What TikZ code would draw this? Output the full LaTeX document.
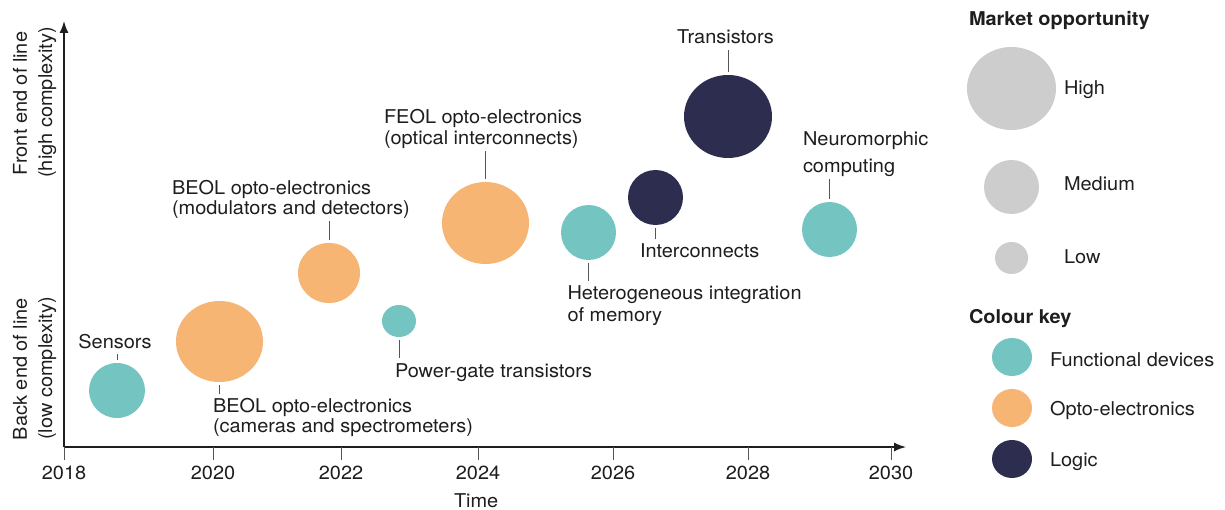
\documentclass[tikz,border=0pt]{standalone}
\usepackage{fontspec}
\setmainfont[FakeStretch=1.05]{TeX Gyre Heros}
\usetikzlibrary{arrows.meta,shapes.geometric}
\definecolor{cTeal}{HTML}{74C5C2}
\definecolor{cOrange}{HTML}{F7B574}
\definecolor{cNavy}{HTML}{2D2E4F}
\definecolor{cGrey}{HTML}{CDCDCD}
\definecolor{cText}{HTML}{1E1E1E}
\definecolor{cLead}{HTML}{555555}
\tikzset{
  txt/.style={font=\fontsize{19}{22}\selectfont, text=cText, inner sep=0pt, outer sep=0pt},
  ttl/.style={txt, font=\fontsize{19}{22}\selectfont\bfseries},
  bub/.style={ellipse, inner sep=0pt, outer sep=0pt, draw=none},
  leadup/.style={draw=cLead, line width=0.9pt, shorten <=3pt, shorten >=6pt},
  leaddn/.style={draw=cLead, line width=0.9pt, shorten <=3pt, shorten >=5pt},
  axisline/.style={draw=cText, line width=1.4pt},
  tickline/.style={draw=cLead, line width=0.8pt},
}
\begin{document}
\begin{tikzpicture}[x=1pt,y=-1pt]
\useasboundingbox (0,0) rectangle (1225,510);
\fill[white] (0,0) rectangle (1225,510);

% axes
\coordinate (origin) at (64,447);
\coordinate (ytip) at (64,21);
\coordinate (xtip) at (906,447);
\draw[axisline, -{Latex[length=12pt,width=9pt]}] (origin) -- (ytip);
\draw[axisline, -{Latex[length=12pt,width=9pt]}] (origin) -- (xtip);

% ticks and year labels
\foreach \xx/\yr in {64/2018, 213/2020, 341/2022, 478/2024, 613/2026, 748/2028, 891/2030}{
  \coordinate (t\yr) at (\xx,447);
  \draw[tickline] (t\yr) -- ++(0,13);
  \node[txt, anchor=base] (y\yr) at (\xx,479) {\yr};
}
\node[txt, anchor=base west] (time) at (454,507.5) {Time};

% y-axis labels
\node[txt, rotate=90, anchor=base] (yl1) at (27,103.5) {Front end of line};
\node[txt, rotate=90, anchor=base] (yl2) at (52,102.5) {(high complexity)};
\node[txt, rotate=90, anchor=base] (yl3) at (27,369) {Back end of line};
\node[txt, rotate=90, anchor=base] (yl4) at (52,368.5) {(low complexity)};

% bubbles
\node[bub, fill=cTeal,   minimum width=56pt, minimum height=55pt] (bSen) at (117,390.5) {};
\node[bub, fill=cOrange, minimum width=87pt, minimum height=81pt] (bCam) at (219.5,341.5) {};
\node[bub, fill=cOrange, minimum width=62pt, minimum height=60pt] (bMod) at (329,273) {};
\node[bub, fill=cTeal,   minimum width=34pt, minimum height=32pt] (bPow) at (399,321) {};
\node[bub, fill=cOrange, minimum width=87pt, minimum height=82pt] (bFeol) at (485.5,223) {};
\node[bub, fill=cTeal,   minimum width=55pt, minimum height=55pt] (bHet) at (588.5,232.5) {};
\node[bub, fill=cNavy,   minimum width=55pt, minimum height=55pt] (bInt) at (655.5,197.5) {};
\node[bub, fill=cNavy,   minimum width=88pt, minimum height=83pt] (bTra) at (728,116.5) {};
\node[bub, fill=cTeal,   minimum width=55pt, minimum height=55pt] (bNeu) at (829.5,229.5) {};

% labels
\node[txt, anchor=base] (lSen) at (115,348) {Sensors};
\node[txt, anchor=base west] (lCam1) at (213,412.7) {BEOL opto-electronics};
\node[txt, anchor=base west] (lCam2) at (213,432.7) {(cameras and spectrometers)};
\node[txt, anchor=base west] (lMod1) at (172,195) {BEOL opto-electronics};
\node[txt, anchor=base west] (lMod2) at (172,215) {(modulators and detectors)};
\node[txt, anchor=base west] (lPow) at (395,377) {Power-gate transistors};
\node[txt, anchor=base west] (lFeol1) at (384,124) {FEOL opto-electronics};
\node[txt, anchor=base west] (lFeol2) at (384,145) {(optical interconnects)};
\node[txt, anchor=base west] (lHet1) at (567.5,300) {Heterogeneous integration};
\node[txt, anchor=base west] (lHet2) at (567.5,321) {of memory};
\node[txt, anchor=base west] (lInt) at (640,258) {Interconnects};
\node[txt, anchor=base] (lTra) at (725.5,44) {Transistors};
\node[txt, anchor=base west] (lNeu1) at (803,146) {Neuromorphic};
\node[txt, anchor=base west] (lNeu2) at (803,173) {computing};

% leader lines
\draw[leadup] (bSen.north) -- (bSen.north |- lSen.base);
\draw[leadup] (bMod.north) -- (bMod.north |- lMod2.base);
\draw[leadup] (bFeol.north) -- (bFeol.north |- lFeol2.base);
\draw[leadup] (bTra.north) -- (bTra.north |- lTra.base);
\draw[leadup] (bNeu.north) -- (bNeu.north |- lNeu2.base);
\draw[leaddn] (bCam.south) -- (bCam.south |- lCam1.north);
\draw[leaddn] (bPow.south) -- (bPow.south |- lPow.north);
\draw[leaddn] (bHet.south) -- (bHet.south |- lHet1.north);
\draw[leaddn] (bInt.south) -- (bInt.south |- lInt.north);

% legend: market opportunity
\node[ttl, anchor=base west] (mTitle) at (969,26) {Market opportunity};
\node[bub, fill=cGrey, minimum width=89pt, minimum height=83pt] (gHigh) at (1011.5,88.5) {};
\node[bub, fill=cGrey, minimum width=55pt, minimum height=54pt] (gMed) at (1011.5,187) {};
\node[bub, fill=cGrey, minimum width=33pt, minimum height=32pt] (gLow) at (1011.5,258) {};
\node[txt, anchor=base west] (tHigh) at (1064,95) {High};
\node[txt, anchor=base west] (tMed) at (1064,191) {Medium};
\node[txt, anchor=base west] (tLow) at (1064,263.3) {Low};

% legend: colour key
\node[ttl, anchor=base west] (cTitle) at (969,323.3) {Colour key};
\node[bub, fill=cTeal,   minimum width=40pt, minimum height=38pt] (kFun) at (1012,357) {};
\node[bub, fill=cOrange, minimum width=40pt, minimum height=38pt] (kOpt) at (1012,408) {};
\node[bub, fill=cNavy,   minimum width=40pt, minimum height=38pt] (kLog) at (1012,459) {};
\node[txt, anchor=base west] (tFun) at (1050,366) {Functional devices};
\node[txt, anchor=base west] (tOpt) at (1050,415) {Opto-electronics};
\node[txt, anchor=base west] (tLog) at (1050,466.7) {Logic};
\end{tikzpicture}
\end{document}
